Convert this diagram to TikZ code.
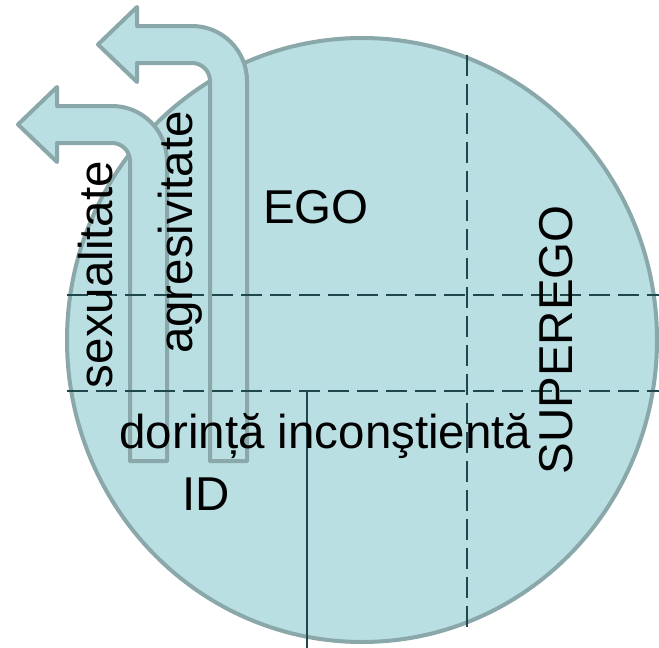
\documentclass[tikz,border=0pt]{standalone}
\usepackage{fontspec}
\setmainfont{Liberation Sans}
\usepackage{xcolor}
\usepackage{tikz}
\definecolor{psyfill}{RGB}{186,223,226}
\definecolor{psyedge}{RGB}{138,167,169}
\definecolor{psyline}{RGB}{30,72,76}

\begin{document}
\begin{tikzpicture}[
  x=1pt, y=1pt,
  psyche/.style={fill=psyfill, draw=psyedge, line width=4pt},
  drive/.style={psyche, line join=round},
  split/.style={draw=psyline, line width=2pt, dash pattern=on 21pt off 8pt},
  cut/.style={draw=psyline, line width=2pt},
  txt/.style={inner sep=0pt, anchor=base, font=\fontsize{47.5}{57}\selectfont},
  vtxt/.style={txt, rotate=90},
]
\useasboundingbox (0,0) rectangle (659,-648);

%% --- psyche ---
\draw[psyche] (362,-340) ellipse [x radius=295, y radius=302];

%% --- drives (bent arrows) ---
\draw[drive] (210,-461) -- (247,-461) -- (247,-81) arc[start angle=0, end angle=90, radius=55]
  -- (137,-26) -- (137,-7) -- (98,-44.5) -- (137,-82) -- (137,-63) -- (192,-63)
  arc[start angle=90, end angle=0, radius=18] -- cycle;
\draw[drive] (130,-461) -- (167,-461) -- (167,-161) arc[start angle=0, end angle=90, radius=55]
  -- (57,-106) -- (57,-87) -- (18,-124.5) -- (57,-162) -- (57,-143) -- (112,-143)
  arc[start angle=90, end angle=0, radius=18] -- cycle;

%% --- levels ---
\draw[split] (67,-295) -- (659,-295);
\draw[split] (67,-391) -- (659,-391);
\draw[split] (467,-55) -- (467,-630);
\draw[cut] (307,-391) -- (307,-648);

%% --- labels ---
\node[txt] (ego) at (316,-223) {EGO};
\node[txt] (id) at (206,-510) {ID};
\node[txt] (wish) at (325.5,-448) {dorință inconştientă};
\node[vtxt] (superego) at (572,-340) {SUPEREGO};
\node[vtxt] (sex) at (112,-274.5) {sexualitate};
\node[vtxt] (aggr) at (192,-232.5) {agresivitate};

\end{tikzpicture}
\end{document}
